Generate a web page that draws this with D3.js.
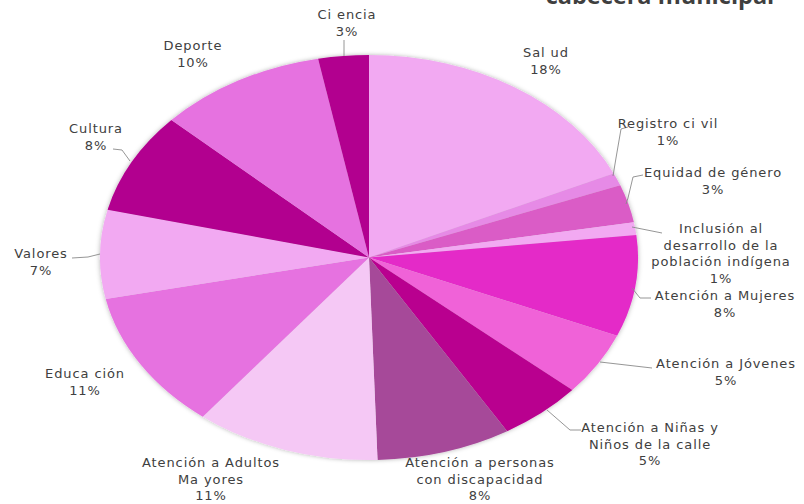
<!DOCTYPE html>
<html>
<head>
<meta charset="utf-8">
<script src="https://cdn.jsdelivr.net/npm/d3@7"></script>
<style>
html,body{margin:0;padding:0;background:#fff;overflow:hidden;}
svg{display:block;}
</style>
</head>
<body>
<svg id="chart" width="804" height="504"></svg>
<script>
// Data
const categories = [
  "Salud", "Registro civil", "Equidad de género", "Inclusión al desarrollo de la población indígena",
  "Atención a Mujeres", "Atención a Jóvenes", "Atención a Niñas y Niños de la calle",
  "Atención a personas con discapacidad", "Atención a Adultos Mayores", "Educación",
  "Valores", "Cultura", "Deporte", "Ciencia"
];
const values = [18, 1, 3, 1, 8, 5, 5, 8, 11, 11, 7, 8, 10, 3];
const labelLines = [
  ["Sal ud"], ["Registro ci vil"], ["Equidad de género"],
  ["Inclusión al", "desarrollo de la", "población indígena"],
  ["Atención a Mujeres"], ["Atención a Jóvenes"], ["Atención a Niñas y", "Niños de la calle"],
  ["Atención a personas", "con discapacidad"], ["Atención a Adultos", "Ma yores"], ["Educa ción"],
  ["Valores"], ["Cultura"], ["Deporte"], ["Ci encia"]
];
const titleText = "cabecera municipal";

// Style / layout (separate from data)
const colors = ["#F2A9F2", "#E68AE6", "#DA5CC6", "#F2A9F2", "#E42CC8", "#F062D8", "#B9008F",
                "#A64A99", "#F5C8F5", "#E672E0", "#F2A9F2", "#B2008F", "#E672E0", "#B2008F"];
// label anchor: [center x, first baseline y]
const labelPos = [[546,57],[668,128],[713,177],[721,233],[725,300],[726,368],[650,432],
                  [480,467],[211,467],[85,378],[41,258],[96,133],[193,50],[347,19]];
const leaders = {
  1: [[628,127],[621,129],[616,158],[613,176]],
  2: [[643,175],[633,177],[628,198],[626,204]],
  3: [[632,227],[662,233]],
  4: [[632,288],[640,298],[651,298]],
  5: [[600,362],[652,368]],
  6: [[547,410],[570,430],[581,430]],
  10: [[72,258],[88,257],[100,254]],
  11: [[113,149],[122,150],[130,161]],
  13: [[344,40],[344,56]]
};

const cx = 369, cy = 257.5, rx = 269, ry = 202.5;
const svg = d3.select("#chart");

const defs = svg.append("defs");
const f = defs.append("filter").attr("id","glow").attr("x","-10%").attr("y","-10%").attr("width","120%").attr("height","120%");
f.append("feGaussianBlur").attr("in","SourceAlpha").attr("stdDeviation",2.5).attr("result","b");
f.append("feFlood").attr("flood-color","#000").attr("flood-opacity",0.3).attr("result","c");
f.append("feComposite").attr("in","c").attr("in2","b").attr("operator","in").attr("result","s");
const m = f.append("feMerge");
m.append("feMergeNode").attr("in","s");
m.append("feMergeNode").attr("in","SourceGraphic");

const pie = d3.pie().sort(null).value(d => d);
const arcs = pie(values);
const arc = d3.arc().innerRadius(0).outerRadius(rx);

const g = svg.append("g")
  .attr("transform", `translate(${cx},${cy}) scale(1,${ry/rx})`)
  .attr("filter","url(#glow)");
g.selectAll("path").data(arcs).join("path")
  .attr("d", arc)
  .attr("fill", (d,i) => colors[i]);

// leader lines
const line = d3.line();
Object.entries(leaders).forEach(([k, pts]) => {
  svg.append("path").attr("d", line(pts)).attr("fill","none")
    .attr("stroke","#8a8a8a").attr("stroke-width",0.9);
});

// labels
const lh = 16.6;
const lg = svg.append("g").attr("font-family","'DejaVu Sans', Verdana, sans-serif")
  .attr("font-size","13px").attr("letter-spacing","0.9px")
  .attr("fill","#404040").attr("text-anchor","middle");
arcs.forEach((d,i) => {
  const [x,y] = labelPos[i];
  const lines = labelLines[i].concat([Math.round(d.data) + "%"]);
  const t = lg.append("text").attr("x", x).attr("y", y);
  lines.forEach((s,j) => {
    t.append("tspan").attr("x", x).attr("y", y + j*lh).text(s);
  });
});

// title (partially cut at the top, as in the reference)
svg.append("text").attr("x", 660).attr("y", 4).attr("text-anchor","middle")
  .attr("font-family","'Open Sans', 'Liberation Sans', sans-serif").attr("font-weight","bold")
  .attr("font-size","23.5px").attr("fill","#3f3f3f").text(titleText);
</script>
</body>
</html>
